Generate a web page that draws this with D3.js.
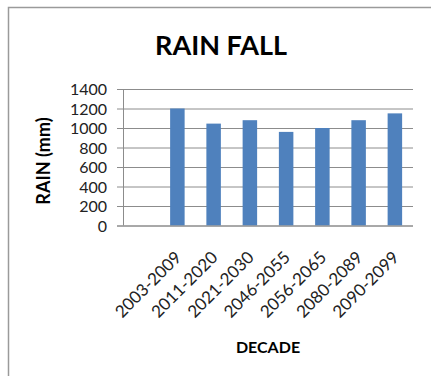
<!DOCTYPE html>
<html>
<head>
<meta charset="utf-8">
<script src="https://cdn.jsdelivr.net/npm/d3@7"></script>
<style>
  body { margin: 0; background: #fff; }
  text { font-family: Lato, "Open Sans", sans-serif; fill: #000; }
</style>
</head>
<body>
<script>
// chart data
var decades = ["", "2003-2009", "2011-2020", "2021-2030", "2046-2055", "2056-2065", "2080-2089", "2090-2099"];
var rainfall = [null, 1200, 1045, 1080, 960, 1000, 1080, 1150];
var yTicks = [0, 200, 400, 600, 800, 1000, 1200, 1400];

var data = decades.map(function(d, i) { return {decade: d, rain: rainfall[i]}; });

// set the dimensions of the plot area
var margin = {top: 89, left: 123},
	width = 290,
	height = 136.5;

var svg = d3.select("body").append("svg")
			.attr("width", 431)
			.attr("height", 376);

// outer chart frame (only top and left edges are visible)
svg.append("path")
   .attr("d", "M8.5,376V7.5H431")
   .attr("fill", "none")
   .attr("stroke", "#9a9a9a")
   .attr("stroke-width", 1.5);

var g = svg.append("g")
		   .attr("transform", "translate(" + margin.left + "," + margin.top + ")");

// set the ranges
var x = d3.scaleBand().domain(decades).range([0, width]).paddingInner(0.6).paddingOuter(0.3);
var y = d3.scaleLinear().domain([0, 1400]).range([height, 0]);

// gridlines + y axis
var yAxis = g.append("g")
			 .attr("transform", "translate(-6,0)")
			 .call(d3.axisLeft(y).tickValues(yTicks).tickFormat(d3.format("d"))
					 .tickSize(-width - 6).tickSizeOuter(0));
yAxis.select(".domain").remove();
yAxis.selectAll("line").attr("stroke", "#8c8c8c").attr("stroke-width", 1);
yAxis.selectAll("text")
	 .attr("x", -10)
	 .attr("dy", "0.36em")
	 .style("font-size", "16px")
	 .style("fill", "#222");

// vertical axis line
g.append("line")
 .attr("x1", 0.5).attr("x2", 0.5)
 .attr("y1", 0).attr("y2", height)
 .attr("stroke", "#8c8c8c");

// the bars
g.selectAll(".bar")
 .data(data.filter(function(d) { return d.rain != null; }))
 .enter().append("rect")
 .attr("class", "bar")
 .attr("x", function(d) { return x(d.decade); })
 .attr("width", x.bandwidth())
 .attr("y", function(d) { return y(d.rain); })
 .attr("height", function(d) { return height - y(d.rain); })
 .attr("fill", "#4f81bd");

// bottom axis line
g.append("line")
 .attr("x1", -6).attr("x2", width)
 .attr("y1", height + 0.5).attr("y2", height + 0.5)
 .attr("stroke", "#8c8c8c");

// x labels, rotated
var xAxis = g.append("g")
			 .attr("transform", "translate(0," + height + ")")
			 .call(d3.axisBottom(x).tickSize(0));
xAxis.select(".domain").remove();
xAxis.selectAll("text")
	 .attr("x", 0)
	 .attr("y", 0)
	 .attr("dy", 0)
	 .style("font-size", "17px")
	 .style("fill", "#222")
	 .style("text-anchor", "end")
	 .attr("transform", "translate(5,33) rotate(-45)");

// title
svg.append("text")
   .attr("x", 221)
   .attr("y", 55)
   .attr("text-anchor", "middle")
   .style("font-size", "27px")
   .style("font-weight", "bold")
   .text("RAIN FALL");

// y axis title
svg.append("text")
   .attr("transform", "translate(50,161) rotate(-90)")
   .attr("text-anchor", "middle")
   .style("font-size", "18px")
   .style("font-weight", "bold")
   .text("RAIN (mm)");

// x axis title
svg.append("text")
   .attr("x", 268)
   .attr("y", 353)
   .attr("text-anchor", "middle")
   .style("font-size", "16px")
   .style("font-weight", "bold")
   .text("DECADE");
</script>
</body>
</html>
